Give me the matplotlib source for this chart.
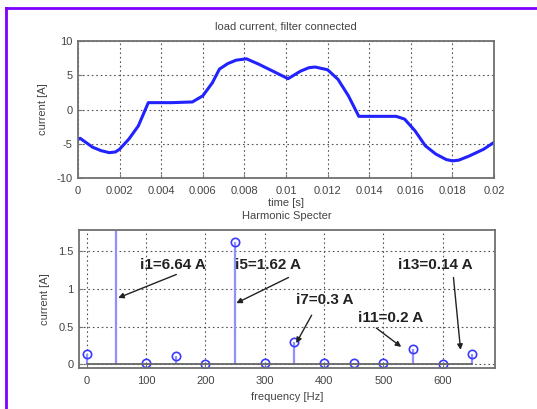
import matplotlib
matplotlib.use("Agg")
import matplotlib.pyplot as plt
from matplotlib.lines import Line2D
from matplotlib.ticker import FuncFormatter

plt.rcParams["font.family"] = ["Liberation Sans", "DejaVu Sans"]
plt.rcParams["axes.unicode_minus"] = False

# load current waveform (one period, 50 Hz)
t = [0, 0.0001, 0.0007, 0.0011, 0.0015, 0.0018, 0.002, 0.00245, 0.0029, 0.00338, 0.0045,
     0.0055, 0.006, 0.00646, 0.0068, 0.0072, 0.0076, 0.0081, 0.0087, 0.0095, 0.0101,
     0.0107, 0.0111, 0.0114, 0.012, 0.0125, 0.013, 0.0135, 0.0145, 0.0153, 0.0157,
     0.0162, 0.0167, 0.0172, 0.0177, 0.018, 0.0183, 0.0188, 0.0195, 0.02]
i_load = [-4.4, -4.2, -5.5, -6.0, -6.3, -6.2, -5.8, -4.3, -2.4, 1.0, 1.0,
          1.1, 2.0, 3.9, 5.9, 6.7, 7.2, 7.4, 6.6, 5.4, 4.5,
          5.6, 6.1, 6.2, 5.8, 4.4, 2.0, -1.0, -1.0,
          -1.0, -1.4, -3.1, -5.3, -6.5, -7.3, -7.5, -7.4, -6.8, -5.8, -4.8]

# harmonic spectrum
freq = [0, 50, 100, 150, 200, 250, 300, 350, 400, 450, 500, 550, 600, 650]
amp = [0.13, 6.64, 0.02, 0.11, 0.0, 1.62, 0.01, 0.3, 0.01, 0.02, 0.01, 0.2, 0.0, 0.14]

# labels: text, text position, arrow tail, arrow tip
labels = ["i1=6.64 A", "i5=1.62 A", "i7=0.3 A", "i11=0.2 A", "i13=0.14 A"]
label_pos = [(90, 1.32), (250, 1.32), (353, 0.85), (457, 0.61), (525, 1.32)]
arrow_tail = [(151, 1.19), (340, 1.15), (379, 0.65), (488, 0.48), (618, 1.15)]
arrow_tip = [(53, 0.88), (252, 0.81), (353, 0.28), (530, 0.23), (630, 0.19)]

W, H = 537, 409
fig = plt.figure(figsize=(W / 100, H / 100), dpi=100)
fig.patch.set_facecolor("white")

ax1 = fig.add_axes([78 / W, 1 - 178 / H, 416 / W, 137 / H])
ax2 = fig.add_axes([79 / W, 1 - 368 / H, 416 / W, 138 / H])

tick_col = "#444444"
for ax in (ax1, ax2):
    for sp in ax.spines.values():
        sp.set_color("#707070")
        sp.set_linewidth(1.3)
    ax.tick_params(direction="in", length=3, colors="#777777",
                   labelcolor=tick_col, labelsize=8, pad=4)
    ax.tick_params(axis="x", pad=6)
    ax.grid(True, linestyle=(0, (1.5, 2.5)), color="#555555", linewidth=0.8)
    ax.set_axisbelow(True)

# top: load current
ax1.plot(t, i_load, color="#2222ff", linewidth=2.2)
ax1.set_xlim(0, 0.02)
ax1.set_ylim(-10, 10)
ax1.set_xticks([k * 0.002 for k in range(11)])
ax1.set_yticks([-10, -5, 0, 5, 10])
ax1.xaxis.set_major_formatter(FuncFormatter(lambda v, p: "%g" % round(v, 4)))
ax1.set_title("load current, filter connected", fontsize=8, color=tick_col, pad=8)
ax1.set_xlabel("time [s]", fontsize=8, color=tick_col, labelpad=1)
ax1.set_ylabel("current [A]", fontsize=8, color=tick_col, labelpad=6)

# bottom: harmonic spectrum
markers, stems, base = ax2.stem(freq, amp)
stems.set_color("#9090ff")
stems.set_linewidth(1.6)
markers.set_marker("o")
markers.set_markerfacecolor("none")
markers.set_markeredgecolor("#3a3aff")
markers.set_markersize(6)
markers.set_markeredgewidth(1.2)
base.set_color("#666666")
base.set_linewidth(1.3)
ax2.set_xlim(-13, 688)
ax2.set_ylim(-0.05, 1.78)
ax2.set_xticks(range(0, 700, 100))
ax2.set_yticks([0, 0.5, 1, 1.5])
ax2.yaxis.set_major_formatter(FuncFormatter(lambda v, p: "%g" % v))
ax2.set_title("Harmonic Specter", fontsize=8, color=tick_col, pad=8)
ax2.set_xlabel("frequency [Hz]", fontsize=8, color=tick_col, labelpad=4)
ax2.set_ylabel("current [A]", fontsize=8, color=tick_col, labelpad=6)

for txt, pos, tail, tip in zip(labels, label_pos, arrow_tail, arrow_tip):
    ax2.text(pos[0], pos[1], txt, fontsize=11, fontweight="bold",
             color="#222222", va="center", ha="left")
    ax2.annotate("", xy=tip, xytext=tail,
                 arrowprops=dict(arrowstyle="-|>", color="#222222", lw=1.0,
                                 mutation_scale=8, shrinkA=0, shrinkB=0))

# purple frame on left and top
fx = 6 / W
fy = 1 - 7.5 / H
fig.add_artist(Line2D([fx, fx], [0, fy], transform=fig.transFigure,
                      color="#7a00ff", linewidth=2))
fig.add_artist(Line2D([fx, 1], [fy, fy], transform=fig.transFigure,
                      color="#7a00ff", linewidth=2))

fig.savefig("out.png", dpi=100)
